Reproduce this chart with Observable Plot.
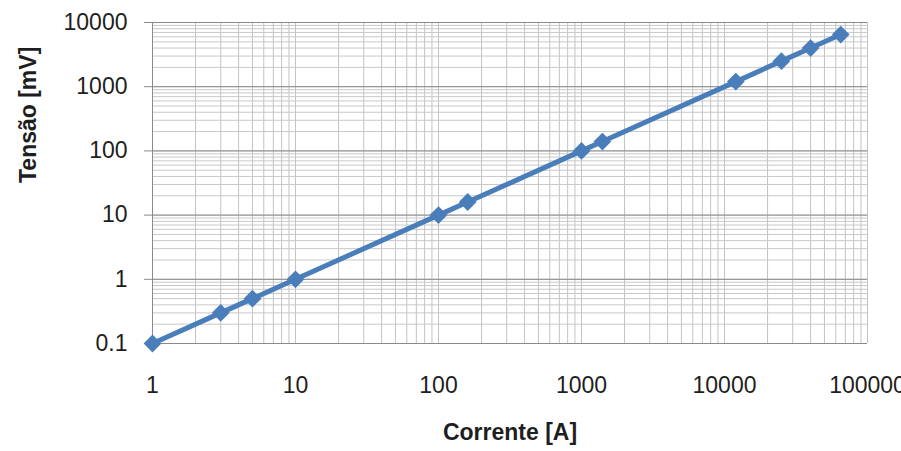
<!DOCTYPE html>
<html>
<head>
<meta charset="utf-8">
<script src="https://cdn.jsdelivr.net/npm/d3@7"></script>
<script src="https://cdn.jsdelivr.net/npm/@observablehq/plot@0.6"></script>
<style>
  html, body { margin: 0; padding: 0; background: #fff; }
</style>
</head>
<body>
<div id="chart"></div>
<script>
// Data
const corrente = [1, 3, 5, 10, 100, 160, 1000, 1400, 12000, 25000, 40000, 65000];
const tensao   = [0.1, 0.3, 0.5, 1, 10, 16, 100, 140, 1200, 2500, 4000, 6500];

// Tick labels
const xTicks = [1, 10, 100, 1000, 10000, 100000];
const yTicks = [0.1, 1, 10, 100, 1000, 10000];

const xTitle = "Corrente [A]";
const yTitle = "Tensão [mV]";

const data = corrente.map((c, i) => ({x: c, y: tensao[i]}));

// Gridline positions (log decades with 2..9 subdivisions)
const minorOf = (majors) => {
  const out = [];
  for (let i = 0; i < majors.length - 1; i++) {
    for (let k = 1; k <= 9; k++) out.push(+(majors[i] * k).toPrecision(6));
  }
  out.push(majors[majors.length - 1]);
  return out;
};
const xGrid = minorOf(xTicks);
const yGrid = minorOf(yTicks);

const chart = Plot.plot({
  width: 901,
  height: 451,
  marginLeft: 152,
  marginRight: 34,
  marginTop: 22,
  marginBottom: 108,
  style: {fontFamily: "'Liberation Sans', Arial, sans-serif", fontSize: "23px", color: "#1e1e1e", background: "#fff"},
  x: {type: "log", domain: [1, 100000]},
  y: {type: "log", domain: [0.1, 10000]},
  marks: [
    Plot.ruleX(xGrid, {stroke: "#c3c3c3", strokeWidth: 1}),
    Plot.ruleY(yGrid, {stroke: "#c8c8c8", strokeWidth: 1}),
    Plot.ruleY(yTicks, {stroke: "#8a8a8a", strokeWidth: 1}),
    Plot.ruleX([1], {stroke: "#8a8a8a", strokeWidth: 1}),
    Plot.axisY(yTicks, {tickSize: 8, tickPadding: 17, stroke: "#8a8a8a", tickFormat: d => String(d), label: null, fontSize: 23}),
    Plot.axisX(xTicks, {tickSize: 0, tickPadding: 33, tickFormat: d => String(d), label: null, fontSize: 23}),
    Plot.line(data, {x: "x", y: "y", stroke: "#4a7ebb", strokeWidth: 5}),
    Plot.dot(data, {x: "x", y: "y", symbol: "diamond2", r: 8, fill: "#4a7ebb", stroke: "none"}),
    Plot.text([yTitle], {frameAnchor: "left", dx: -124, rotate: -90, fontWeight: "bold", fontSize: 23, fill: "#1e1e1e"}),
    Plot.text([xTitle], {frameAnchor: "bottom", dy: 96, fontWeight: "bold", fontSize: 23, fill: "#1e1e1e"})
  ]
});
document.getElementById("chart").appendChild(chart);
</script>
</body>
</html>
